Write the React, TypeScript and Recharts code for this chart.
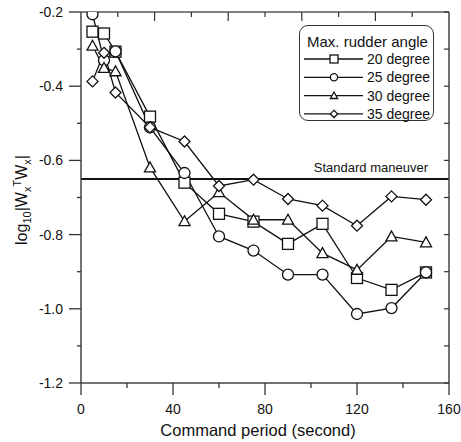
import React from "react";
import { LineChart, Line, XAxis, YAxis, ReferenceLine, Legend } from "recharts";

const periods = [5, 10, 15, 30, 45, 60, 75, 90, 105, 120, 135, 150];
const deg20 = [-0.253, -0.258, -0.307, -0.482, -0.66, -0.744, -0.765, -0.825, -0.771, -0.917, -0.949, -0.902];
const deg25 = [-0.206, -0.33, -0.306, -0.511, -0.634, -0.805, -0.843, -0.908, -0.908, -1.014, -0.998, -0.902];
const deg30 = [-0.291, -0.351, -0.36, -0.619, -0.764, -0.686, -0.76, -0.76, -0.85, -0.895, -0.805, -0.821];
const deg35 = [-0.387, -0.31, -0.417, -0.511, -0.549, -0.669, -0.652, -0.704, -0.722, -0.776, -0.697, -0.706];

const seriesNames = ["20 degree", "25 degree", "30 degree", "35 degree"];
const seriesKeys = ["d20", "d25", "d30", "d35"];
const standardManeuver = -0.65;

const xTicks = [0, 20, 40, 60, 80, 100, 120, 140, 160];
const topTicks = [16, 32, 48, 64, 80, 96, 112, 128, 144];
const yTicks = [-1.2, -1.1, -1.0, -0.9, -0.8, -0.7, -0.6, -0.5, -0.4, -0.3, -0.2];

const data = periods.map((p, i) => ({
  period: p,
  d20: deg20[i],
  d25: deg25[i],
  d30: deg30[i],
  d35: deg35[i],
}));

// plot box in page pixels
const BOX = { left: 81, right: 449, top: 12, bottom: 383 };
const FONT = "'Liberation Sans', Arial, sans-serif";
const INK = "#111";

function Marker({ kind, cx, cy, s }: { kind: number; cx: number; cy: number; s: number }) {
  const st = { fill: "#fff", stroke: INK, strokeWidth: 1.3 };
  if (kind === 0) return <rect x={cx - s} y={cy - s} width={2 * s} height={2 * s} {...st} />;
  if (kind === 1) return <circle cx={cx} cy={cy} r={s} {...st} />;
  if (kind === 2)
    return <polygon points={`${cx},${cy - s} ${cx + s},${cy + s * 0.8} ${cx - s},${cy + s * 0.8}`} {...st} />;
  return <polygon points={`${cx},${cy - s} ${cx + s},${cy} ${cx},${cy + s} ${cx - s},${cy}`} {...st} />;
}

const makeDot = (kind: number) => (props: any) => {
  const { cx, cy, index } = props;
  return <Marker key={`m${kind}-${index}`} kind={kind} cx={cx} cy={cy} s={kind === 1 ? 5.5 : 5.5} />;
};

const BottomTick = (props: any) => {
  const { x, payload } = props;
  const major = payload.value % 40 === 0;
  return (
    <g>
      <line x1={x} x2={x} y1={BOX.bottom} y2={BOX.bottom + (major ? 12 : 5)} stroke="#333" strokeWidth={1.3} />
      {major && (
        <text x={x} y={BOX.bottom + 31} textAnchor="middle" fontSize={14} fontFamily={FONT} fill={INK}>
          {payload.value}
        </text>
      )}
    </g>
  );
};

const TopTick = (props: any) => {
  const { x, payload } = props;
  const long = payload.value % 32 === 0;
  return <line x1={x} x2={x} y1={BOX.top} y2={BOX.top + (long ? 9 : 5)} stroke="#333" strokeWidth={1.2} />;
};

const LeftTick = (props: any) => {
  const { y, payload } = props;
  const major = Math.round(payload.value * 10) % 2 === 0;
  return (
    <g>
      <line x1={BOX.left - (major ? 12 : 4)} x2={BOX.left} y1={y} y2={y} stroke="#333" strokeWidth={1.3} />
      {major && (
        <text x={63} y={y + 5} textAnchor="end" fontSize={14} fontFamily={FONT} fill={INK}>
          {payload.value.toFixed(1)}
        </text>
      )}
    </g>
  );
};

const RightTick = (props: any) => {
  const { y } = props;
  return <line x1={BOX.right - 5} x2={BOX.right} y1={y} y2={y} stroke="#333" strokeWidth={1.2} />;
};

const renderLegend = () => (
  <div
    style={{
      width: 135,
      height: 96,
      border: "1.3px solid #333",
      borderRadius: 9,
      background: "#fff",
      boxSizing: "border-box",
      fontFamily: FONT,
      color: INK,
    }}
  >
    <svg width={135} height={96}>
      <text x={7} y={21} fontSize={15} fontFamily={FONT} fill={INK}>
        Max. rudder angle
      </text>
      {seriesNames.map((name, i) => {
        const y = 33 + i * 18.3;
        return (
          <g key={name}>
            <line x1={4} x2={63} y1={y} y2={y} stroke={INK} strokeWidth={1.3} />
            <Marker kind={i} cx={34} cy={y} s={i === 0 ? 4 : 3.6} />
            <text x={67} y={y + 5} fontSize={14} fontFamily={FONT} fill={INK}>
              {name}
            </text>
          </g>
        );
      })}
    </svg>
  </div>
);

const yLabel = () => (
  <text
    transform="translate(27,200) rotate(-90)"
    textAnchor="middle"
    fontSize={16}
    fontFamily={FONT}
    fill={INK}
  >
    log
    <tspan fontSize={11} dy={4}>10</tspan>
    <tspan fontSize={16} dy={-4}>|W</tspan>
    <tspan fontSize={11} dy={4}>x</tspan>
    <tspan fontSize={11} dy={-10}>T</tspan>
    <tspan fontSize={16} dy={6}>W</tspan>
    <tspan fontSize={11} dy={4}>x</tspan>
    <tspan fontSize={16} dy={-4}>|</tspan>
  </text>
);

const xLabel = () => (
  <text x={258} y={436} textAnchor="middle" fontSize={16.5} fontFamily={FONT} fill={INK}>
    Command period (second)
  </text>
);

const stdLabel = () => (
  <text x={428} y={172} textAnchor="end" fontSize={13} fontFamily={FONT} fill={INK}>
    Standard maneuver
  </text>
);

export default function App() {
  return (
    <div style={{ position: "absolute", left: 0, top: 0, width: 461, height: 442, background: "#fff" }}>
      <LineChart width={461} height={442} data={data} margin={{ top: 0, right: 0, bottom: 0, left: 0 }}>
        <XAxis
          xAxisId="b"
          dataKey="period"
          type="number"
          domain={[0, 160]}
          ticks={xTicks}
          interval={0}
          height={59}
          tickLine={false}
          tick={BottomTick}
          axisLine={{ stroke: "#444", strokeWidth: 1.5 }}
          label={{ content: xLabel }}
        />
        <XAxis
          xAxisId="t"
          orientation="top"
          dataKey="period"
          type="number"
          domain={[0, 160]}
          ticks={topTicks}
          interval={0}
          height={12}
          tickLine={false}
          tick={TopTick}
          axisLine={{ stroke: "#555", strokeWidth: 1.3 }}
        />
        <YAxis
          yAxisId="l"
          type="number"
          domain={[-1.2, -0.2]}
          ticks={yTicks}
          interval={0}
          width={81}
          tickLine={false}
          tick={LeftTick}
          axisLine={{ stroke: "#444", strokeWidth: 1.5 }}
          allowDataOverflow
          label={{ content: yLabel }}
        />
        <YAxis
          yAxisId="r"
          orientation="right"
          type="number"
          domain={[-1.2, -0.2]}
          ticks={yTicks}
          interval={0}
          width={12}
          tickLine={false}
          tick={RightTick}
          axisLine={{ stroke: "#444", strokeWidth: 1.5 }}
          allowDataOverflow
        />
        <ReferenceLine
          xAxisId="b"
          yAxisId="l"
          y={standardManeuver}
          stroke={INK}
          strokeWidth={2}
          label={{ content: stdLabel }}
        />
        {seriesKeys.map((k, i) => (
          <Line
            key={k}
            xAxisId="b"
            yAxisId="l"
            dataKey={k}
            name={seriesNames[i]}
            type="linear"
            stroke={INK}
            strokeWidth={1.3}
            dot={makeDot(i)}
            activeDot={false}
            isAnimationActive={false}
          />
        ))}
        <Legend
          layout="vertical"
          align="center"
          verticalAlign="middle"
          content={renderLegend}
          wrapperStyle={{ position: "absolute", left: 299, top: 25, width: 135, height: 96 }}
        />
      </LineChart>
    </div>
  );
}
